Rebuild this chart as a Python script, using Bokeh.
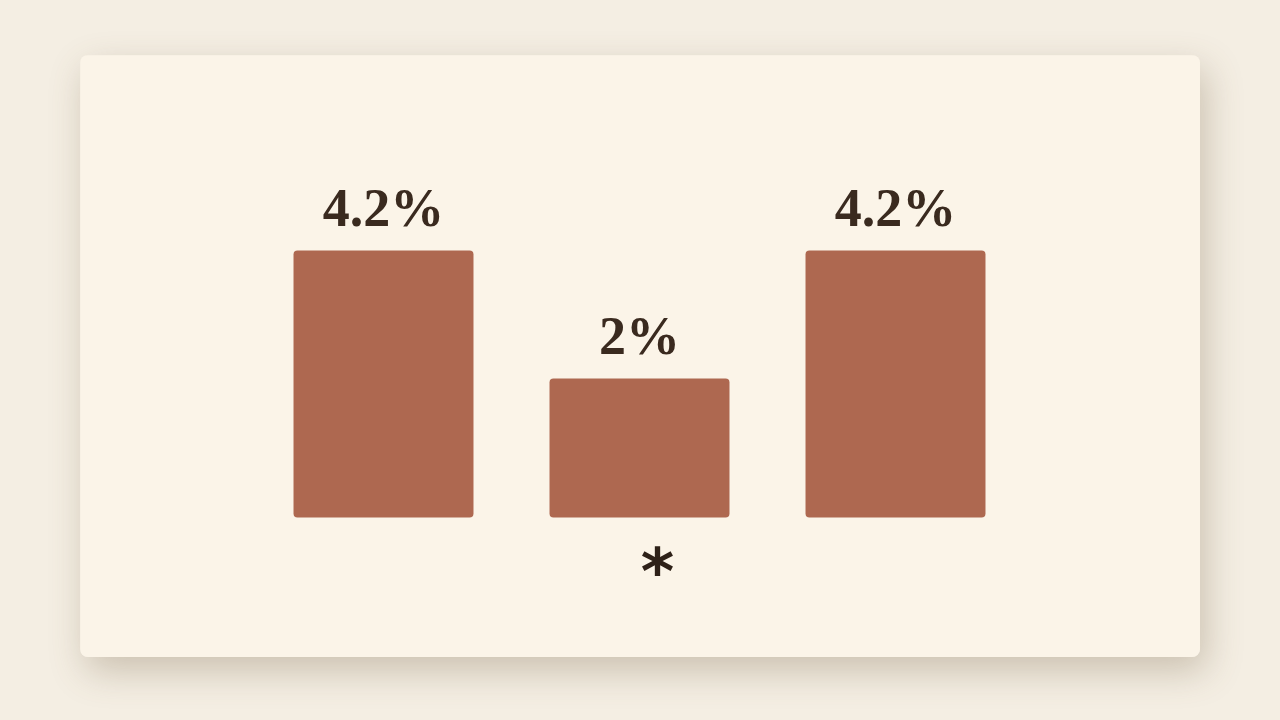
from bokeh.plotting import figure
from bokeh.models import Range1d, GlobalInlineStyleSheet, ColumnDataSource
from bokeh.core.properties import value
from bokeh.embed import file_html
from bokeh.resources import INLINE

# chart data
positions = [0, 1, 2]
rates = [4.2, 2.0, 4.2]
rate_labels = ["4.2%", "2%", "4.2%"]
tick_labels = ["", "*", ""]

base = -0.39  # bars start a bit below zero in the original

page_css = GlobalInlineStyleSheet(css="""
html, body { background: #f4eee3; margin: 0; padding: 0; }
body { padding: 55px 0 0 80px; }
""")

p = figure(
    width=1120,
    height=602,
    x_range=Range1d(-1.1836, 3.1914),
    y_range=Range1d(-2.795, 7.552),
    output_backend="svg",
    toolbar_location=None,
    min_border=0,
)
p.stylesheets = [page_css]
p.styles = {
    "border-radius": "8px",
    "overflow": "hidden",
    "box-shadow": "6px 14px 36px rgba(110, 90, 60, 0.30)",
}
p.background_fill_color = "#fbf4e8"
p.border_fill_color = "#fbf4e8"
p.outline_line_color = None
p.axis.visible = False
p.grid.visible = False

src = ColumnDataSource(dict(x=positions, top=rates, label=rate_labels,
                            tick=tick_labels, bottom=[base] * len(rates)))

p.vbar(x="x", top="top", bottom="bottom", width=0.703, source=src,
       fill_color="#ae6850", line_color=None, border_radius=4)

# value labels above bars
p.text(x="x", y="top", text="label", source=src,
       text_font=value("Liberation Serif"), text_font_style="bold",
       text_font_size="54px", text_color="#3a2a1f",
       text_align="center", text_baseline="alphabetic", y_offset=-43)

# category marks under the bars
p.text(x="x", y="bottom", text="tick", source=src,
       text_font=value("DejaVu Sans"), text_font_style="bold",
       text_font_size="64px", text_color="#2e2118",
       text_align="center", text_baseline="middle", x_offset=18, y_offset=54)

open("out.html", "w").write(file_html(p, INLINE))
